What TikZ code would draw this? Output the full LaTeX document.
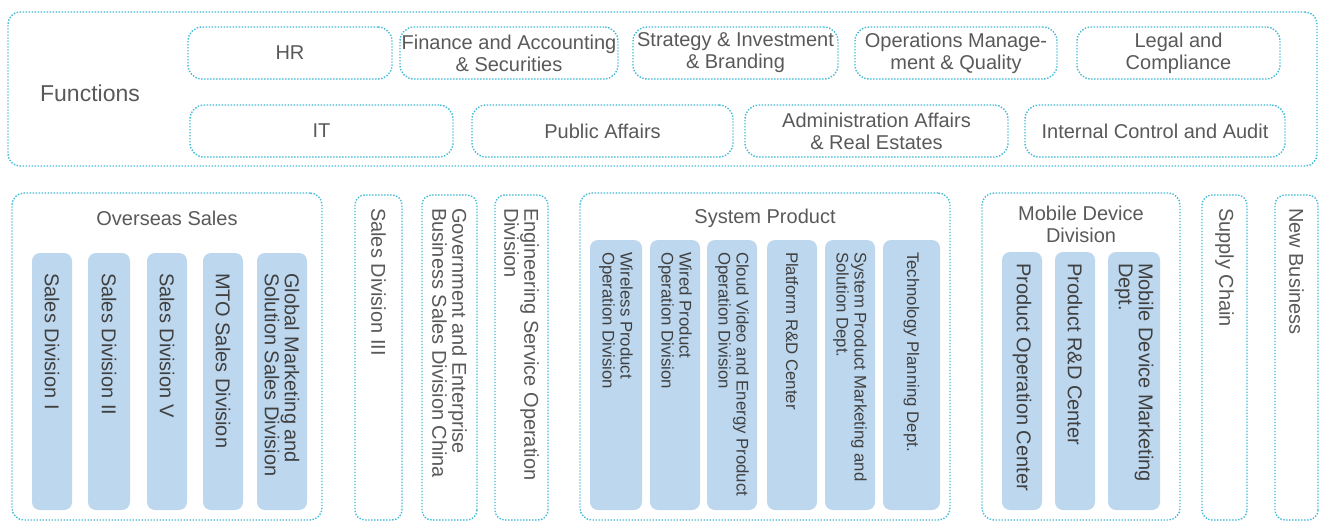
\documentclass[tikz,border=0pt]{standalone}
\usepackage{fontspec}
\setmainfont{Liberation Sans}
\usetikzlibrary{positioning}
\definecolor{dotcyan}{RGB}{64,186,214}
\definecolor{colfill}{RGB}{189,215,238}
\definecolor{txtgray}{RGB}{89,89,89}
\definecolor{coltext}{RGB}{64,64,64}
\newcommand{\boxfont}{\fontsize{20}{22}\selectfont}
\newcommand{\colfont}{\fontsize{20}{20}\selectfont}
\newcommand{\smallcolfont}{\fontsize{16.8}{18}\selectfont}

\begin{document}
\begin{tikzpicture}[x=1pt, y=-1pt,
  dotbox/.style={draw=dotcyan, line width=1.4pt, dash pattern=on 1.4pt off 1.6pt, inner sep=0pt},
  func/.style={dotbox, rounded corners=14pt, minimum height=52pt, align=center, font=\boxfont, text=txtgray},
  group/.style={dotbox, rounded corners=12pt, minimum height=327pt},
  title/.style={align=center, font=\boxfont, text=txtgray},
  unit/.style={dotbox, rounded corners=10pt, rotate=-90, align=flush left, font=\colfont, text=txtgray, inner xsep=13pt, inner ysep=0pt},
  dept/.style={fill=colfill, rounded corners=8pt, rotate=-90, align=flush left, font=\colfont, text=coltext, inner ysep=0pt}
]
  \useasboundingbox (0,0) rectangle (1323,523);

  % Functions block
  \node[dotbox, rounded corners=12pt, minimum width=1309pt, minimum height=154pt] (functions) at (662.5,89) {};
  \node[font=\fontsize{23}{25}\selectfont, text=txtgray] (fnlabel) at (90,93) {Functions};

  \node[func, minimum width=204pt] (hr)    at (290,53)    {HR};
  \node[func, minimum width=218pt] (fin)   at (509,53)    {Finance and Accounting\\\& Securities};
  \node[func, minimum width=205pt] (strat) at (735.5,53)  {Strategy \& Investment\\\& Branding};
  \node[func, minimum width=202pt] (ops)   at (956,53)    {Operations Manage-\\ment \& Quality};
  \node[func, minimum width=203pt] (legal) at (1178.5,53) {Legal and\\Compliance};

  \node[func, minimum width=263pt] (it)     at (321.5,131) {IT};
  \node[func, minimum width=261pt] (public) at (602.5,131) {Public Affairs};
  \node[func, minimum width=263pt] (admin)  at (876.5,131) {Administration Affairs\\\& Real Estates};
  \node[func, minimum width=260pt] (audit)  at (1155,131)  {Internal Control and Audit};

  % Overseas Sales
  \node[group, minimum width=310pt] (overseas) at (167,356.5) {};
  \node[title] (overseastitle) at (167,218) {Overseas Sales};
  \node[dept, minimum height=40pt, text width=217pt, inner xsep=20pt] (sdi)   at (52,381.5)  {Sales Division I};
  \node[dept, minimum height=42pt, text width=217pt, inner xsep=20pt] (sdii)  at (109,381.5) {Sales Division II};
  \node[dept, minimum height=40pt, text width=217pt, inner xsep=20pt] (sdv)   at (167,381.5) {Sales Division V};
  \node[dept, minimum height=40pt, text width=217pt, inner xsep=20pt] (mto)   at (223,381.5) {MTO Sales Division};
  \node[dept, minimum height=50pt, text width=217pt, inner xsep=20pt] (gmssd) at (282,381.5) {Global Marketing and\\Solution Sales Division};

  % Stand-alone units
  \node[unit, minimum height=47pt, text width=299pt] (sdiii) at (378.5,357.5) {Sales Division III};
  \node[unit, minimum height=55pt, text width=299pt] (gov)   at (449.5,357.5) {Government and Enterprise\\Business Sales Division China};
  \node[unit, minimum height=53pt, text width=299pt] (eng)   at (521.5,357.5) {Engineering Service Operation\\Division};

  % System Product
  \node[group, minimum width=370pt] (system) at (765,356.5) {};
  \node[title] (systemtitle) at (765,218) {System Product};
  \node[dept, font=\smallcolfont, minimum height=52pt, text width=246pt, inner xsep=12pt] (wireless) at (616,375)   {Wireless Product\\Operation Division};
  \node[dept, font=\smallcolfont, minimum height=50pt, text width=246pt, inner xsep=12pt] (wired)    at (675,375)   {Wired Product\\Operation Division};
  \node[dept, font=\smallcolfont, minimum height=50pt, text width=246pt, inner xsep=12pt] (cloud)    at (732,375)   {Cloud Video and Energy Product\\Operation Division};
  \node[dept, font=\smallcolfont, minimum height=50pt, text width=246pt, inner xsep=12pt] (platform) at (792,375)   {Platform R\&D Center};
  \node[dept, font=\smallcolfont, minimum height=50pt, text width=246pt, inner xsep=12pt] (spmsd)    at (850,375)   {System Product Marketing and\\Solution Dept.};
  \node[dept, font=\smallcolfont, minimum height=57pt, text width=246pt, inner xsep=12pt] (techplan) at (911.5,375) {Technology Planning Dept.};

  % Mobile Device Division
  \node[group, minimum width=198pt] (mobile) at (1081,356.5) {};
  \node[title] (mobiletitle) at (1081,224) {Mobile Device\\Division};
  \node[dept, minimum height=40pt, text width=236pt, inner xsep=11pt] (prodop)  at (1022,381) {Product Operation Center};
  \node[dept, minimum height=40pt, text width=236pt, inner xsep=11pt] (prodrd)  at (1075,381) {Product R\&D Center};
  \node[dept, minimum height=52pt, text width=236pt, inner xsep=11pt] (mdmkt)   at (1134,381) {Mobile Device Marketing\\Dept.};

  % Supply chain and new business
  \node[unit, minimum height=45pt, text width=299pt] (supply) at (1224.5,357.5) {Supply Chain};
  \node[unit, minimum height=43pt, text width=299pt] (newbiz) at (1296.5,357.5) {New Business};
\end{tikzpicture}
\end{document}
